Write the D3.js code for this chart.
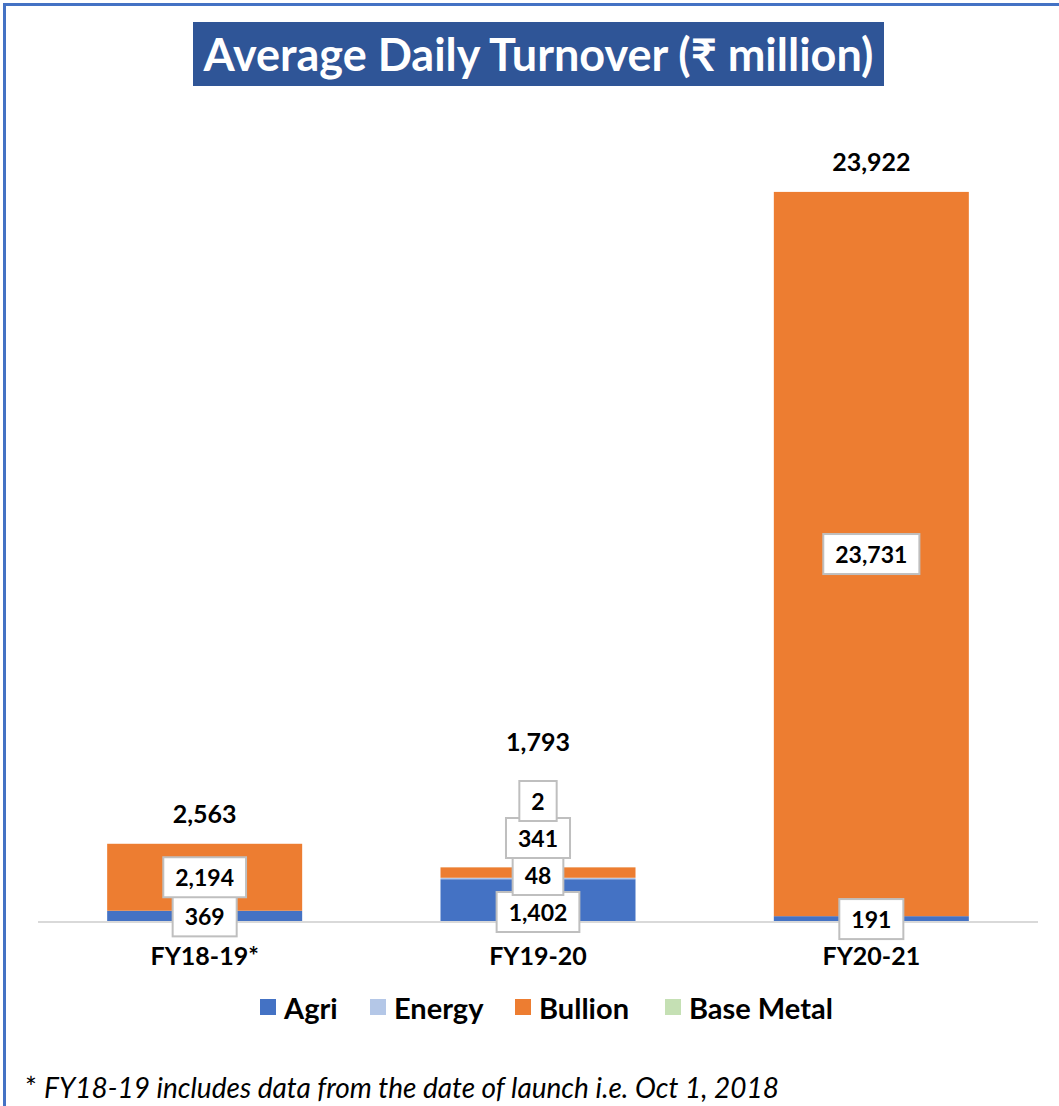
<!DOCTYPE html>
<html>
<head>
<meta charset="utf-8">
<script src="https://cdn.jsdelivr.net/npm/d3@7"></script>
<style>
  html, body { margin: 0; padding: 0; background: #fff; }
  svg { display: block; font-family: Lato, "Noto Sans", "DejaVu Sans", sans-serif; }
</style>
</head>
<body>
<svg id="chart" width="1059" height="1106"></svg>
<script>
  // ===== 数据 =====
  const categories = ['FY18-19*', 'FY19-20', 'FY20-21'];
  const agri = [369, 1402, 191];
  const energy = [0, 48, 0];
  const bullion = [2194, 341, 23731];
  const baseMetal = [0, 2, 0];
  const totals = [2563, 1793, 23922];
  const seriesNames = ['Agri', 'Energy', 'Bullion', 'Base Metal'];
  const seriesColors = ['#4472C4', '#B4C7E7', '#ED7D31', '#C5E0B4'];

  const svg = d3.select('#chart');
  const W = 1059, H = 1106;
  const baseY = 922;

  // 外框 (top + left blue border)
  svg.append('line').attr('x1', 3).attr('x2', W).attr('y1', 4.5).attr('y2', 4.5)
    .attr('stroke', '#4472C4').attr('stroke-width', 3);
  svg.append('line').attr('x1', 4.5).attr('x2', 4.5).attr('y1', 3).attr('y2', H)
    .attr('stroke', '#4472C4').attr('stroke-width', 3);

  // 标题
  svg.append('rect').attr('x', 193).attr('y', 22).attr('width', 691).attr('height', 64)
    .attr('fill', '#2F5597');
  svg.append('text').attr('x', 538.5).attr('y', 54).attr('text-anchor', 'middle')
    .attr('dominant-baseline', 'central')
    .attr('fill', '#fff').attr('font-weight', 'bold').attr('font-size', 45)
    .text('Average Daily Turnover (₹ million)');

  // 比例尺
  const x = d3.scaleBand().domain(categories).range([38, 1038])
    .paddingInner(0.415).paddingOuter(0.2075);
  const y = d3.scaleLinear().domain([0, 25000]).range([baseY, 159]);

  const rows = categories.map((c, i) => ({
    cat: c, 'Agri': agri[i], 'Energy': energy[i], 'Bullion': bullion[i], 'Base Metal': baseMetal[i]
  }));
  const stacked = d3.stack().keys(seriesNames)(rows);

  // 柱子
  svg.append('g').selectAll('g')
    .data(stacked)
    .join('g')
    .attr('fill', (d, i) => seriesColors[i])
    .selectAll('rect')
    .data(d => d)
    .join('rect')
    .attr('x', d => x(d.data.cat))
    .attr('width', x.bandwidth())
    .attr('y', d => y(d[1]))
    .attr('height', d => y(d[0]) - y(d[1]));

  // 横轴
  svg.append('line').attr('x1', 38).attr('x2', 1038).attr('y1', baseY).attr('y2', baseY)
    .attr('stroke', '#D9D9D9').attr('stroke-width', 2);

  const xAxis = svg.append('g').attr('transform', `translate(0,${baseY})`)
    .call(d3.axisBottom(x).tickSize(0).tickPadding(25));
  xAxis.select('.domain').remove();
  xAxis.selectAll('text')
    .attr('font-size', 25).attr('font-weight', 'bold').attr('fill', '#000')
    .attr('font-family', 'Lato, "Noto Sans", sans-serif');

  // 数据标签 (带框, 防重叠往上堆)
  const fmt = d3.format(',');
  const labelG = svg.append('g');
  const boxH = 40, stride = 37;
  const stackTops = [];
  categories.forEach((c, ci) => {
    const segs = [];
    stacked.forEach(s => {
      const d = s[ci];
      const v = d[1] - d[0];
      if (v > 0) segs.push({ v, cy: y((d[0] + d[1]) / 2) });
    });
    let prev = null;
    segs.forEach((s, k) => {
      let cy = k === 0 ? Math.max(s.cy, baseY - 10) : Math.min(s.cy, prev - stride);
      prev = cy;
      const cx = x(c) + x.bandwidth() / 2;
      const g = labelG.append('g');
      const rect = g.append('rect');
      const t = g.append('text').attr('x', cx).attr('y', cy)
        .attr('text-anchor', 'middle').attr('dominant-baseline', 'central')
        .attr('font-size', 23).attr('font-weight', 'bold').attr('fill', '#000')
        .text(fmt(s.v));
      const tw = t.node().getComputedTextLength();
      const bw = tw + 24;
      rect.attr('x', cx - bw / 2).attr('y', cy - boxH / 2).attr('width', bw).attr('height', boxH)
        .attr('fill', '#fff').attr('stroke', '#BFBFBF').attr('stroke-width', 2);
    });
    stackTops.push(prev - boxH / 2);
  });

  // 合计标签
  svg.append('g').selectAll('text')
    .data(totals)
    .join('text')
    .attr('x', (d, i) => x(categories[i]) + x.bandwidth() / 2)
    .attr('y', (d, i) => Math.min(y(d) - 31, stackTops[i] - 40))
    .attr('text-anchor', 'middle').attr('dominant-baseline', 'central')
    .attr('font-size', 25).attr('font-weight', 'bold').attr('fill', '#000')
    .text(d => fmt(d));

  // 图例
  const legendX = [260, 370, 515, 665];
  const legend = svg.append('g').selectAll('g')
    .data(seriesNames)
    .join('g')
    .attr('transform', (d, i) => `translate(${legendX[i]},1007)`);
  legend.append('rect').attr('x', 0).attr('y', -8).attr('width', 16).attr('height', 16)
    .attr('fill', (d, i) => seriesColors[i]);
  legend.append('text').attr('x', 24).attr('y', 0).attr('dominant-baseline', 'central')
    .attr('font-size', 29).attr('font-weight', 'bold').attr('fill', '#000')
    .text(d => d);

  // 脚注
  svg.append('text').attr('x', 25).attr('y', 1087).attr('dominant-baseline', 'central')
    .attr('font-size', 28).attr('fill', '#000')
    .html('* <tspan font-style="italic">FY18-19 includes data from the date of launch i.e. Oct 1, 2018</tspan>');
</script>
</body>
</html>
